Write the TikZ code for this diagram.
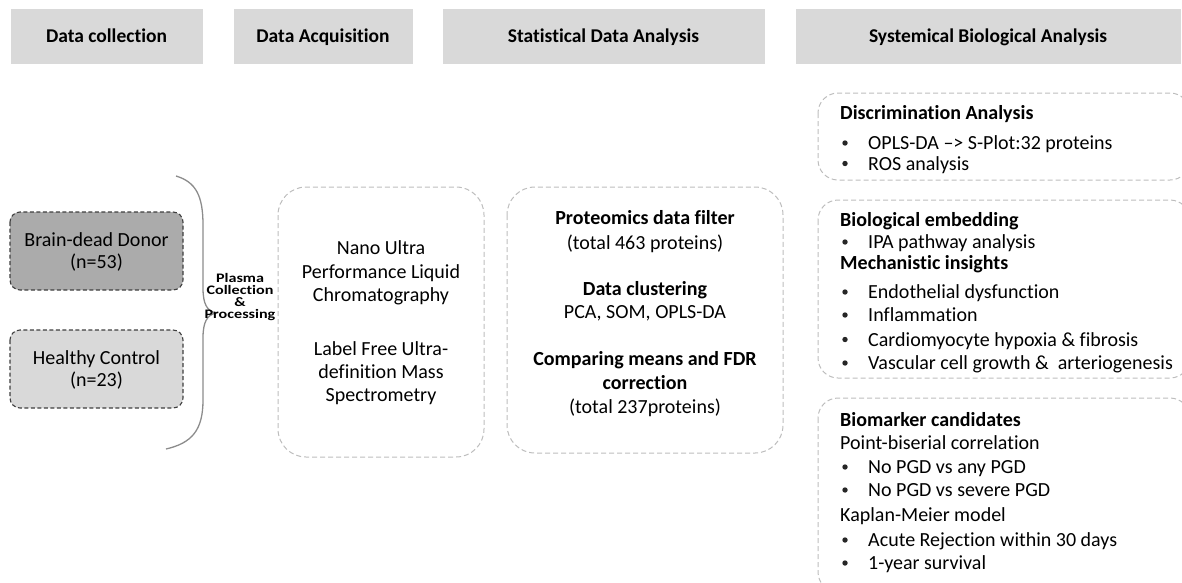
\documentclass[tikz,border=0pt]{standalone}
\usepackage{fontspec}
\setmainfont{Carlito}[Ligatures={NoCommon}]
\definecolor{hdrgrey}{HTML}{D9D9D9}
\definecolor{donorgrey}{HTML}{ABABAB}
\definecolor{ctrlgrey}{HTML}{D9D9D9}
\definecolor{dashgrey}{HTML}{BDBDBD}
\definecolor{edgegrey}{HTML}{3F3F3F}
\definecolor{bracegrey}{HTML}{8C8C8C}
\tikzset{
  hdr/.style={fill=hdrgrey, draw=white, line width=0.6pt, text height=16.6pt, text depth=4pt,
    font=\fontsize{19.5}{22}\selectfont\bfseries},
  cohort/.style={draw=edgegrey, dash pattern=on 4pt off 2.5pt, line width=1.1pt, rounded corners=10pt},
  panel/.style={draw=dashgrey, dash pattern=on 5pt off 3pt, line width=1pt, rounded corners=28pt},
  sidepanel/.style={draw=dashgrey, dash pattern=on 5pt off 3pt, line width=1pt, rounded corners=20pt},
  txt/.style={inner sep=0pt, anchor=base, font=\fontsize{20}{23}\selectfont},
  btxt/.style={inner sep=0pt, anchor=base, font=\fontsize{20}{23}\selectfont\bfseries},
  ltxt/.style={inner sep=0pt, anchor=base west, font=\fontsize{20}{23}\selectfont},
  lbtxt/.style={inner sep=0pt, anchor=base west, font=\fontsize{20}{23}\selectfont\bfseries},
  blt/.style={circle, fill=black!85, inner sep=0pt, minimum size=5.4pt, yshift=6.5pt},
  ptxt/.style={inner sep=0pt, anchor=base, font=\fontsize{13}{12}\selectfont\bfseries},
}
\newcommand{\wide}[1]{\scalebox{1.24}[1]{#1}}
\begin{document}
\begin{tikzpicture}[x=1pt,y=-1pt]
\useasboundingbox (0,0) rectangle (1182,582);
\clip (0,0) rectangle (1182,582);

% column headers
\node[hdr, minimum width=193pt, minimum height=56pt] (h1) at (106.5,36) {Data collection};
\node[hdr, minimum width=180pt, minimum height=56pt] (h2) at (323,36) {Data Acquisition};
\node[hdr, minimum width=323pt, minimum height=56pt] (h3) at (603.5,36) {Statistical Data Analysis};
\node[hdr, minimum width=386pt, minimum height=56pt] (h4) at (988,36) {Systemical Biological Analysis};

% cohorts
\draw[cohort, fill=donorgrey] (10,212) rectangle (183,290);
\node[txt] (donor) at (96.5,246.5) {Brain-dead Donor};
\node[txt] (donorn) at (96.5,268.5) {(n=53)};
\draw[cohort, fill=ctrlgrey] (10,330) rectangle (183,408);
\node[txt] (control) at (96.5,364.5) {Healthy Control};
\node[txt] (controln) at (96.5,386.5) {(n=23)};

% curly brace gathering both cohorts
\draw[bracegrey, line width=1.3pt]
  (176,176) .. controls (196,182) and (203,196) .. (203,225)
  -- (203,288) .. controls (203,304) and (207,311) .. (216,313)
  .. controls (207,315) and (203,322) .. (203,338)
  -- (203,400) .. controls (203,430) and (192,443) .. (166,449);
\node[ptxt] (pl1) at (240,282.5) {\wide{Plasma}};
\node[ptxt] (pl2) at (240,294.5) {\wide{Collection}};
\node[ptxt] (pl3) at (240,306.5) {\wide{\&}};
\node[ptxt] (pl4) at (240,318.5) {\wide{Processing}};

% acquisition panel
\draw[panel] (278,187) rectangle (484,457);
\node[txt] (a1) at (381,254.5) {Nano Ultra};
\node[txt] (a2) at (381,278) {Performance Liquid};
\node[txt] (a3) at (381,301.5) {Chromatography};
\node[txt] (a4) at (381,355.5) {Label Free Ultra-};
\node[txt] (a5) at (381,378.5) {definition Mass};
\node[txt] (a6) at (381,401.5) {Spectrometry};

% statistics panel
\draw[panel] (507,187) rectangle (783,453);
\node[btxt] (filt) at (645,224.5) {Proteomics data filter};
\node[txt] (filtn) at (645,249) {(total 463 proteins)};
\node[btxt] (clus) at (645,295) {Data clustering};
\node[txt] (clusm) at (645,318) {PCA, SOM, OPLS-DA};
\node[btxt] (comp) at (645,365.5) {Comparing means and FDR};
\node[btxt] (comp2) at (645,389) {correction};
\node[txt] (compn) at (645,413.5) {(total 237proteins)};

% biological analysis panels
\draw[sidepanel] (818,93) rectangle (1190,180);
\node[lbtxt] (disc) at (840,119.5) {Discrimination Analysis};
\node[blt] (b1) at (845,149.5) {};
\node[ltxt] (d1) at (868,149.5) {OPLS-DA –> S-Plot:32 proteins};
\node[blt] (b2) at (845,170) {};
\node[ltxt] (d2) at (868,170) {ROS analysis};

\draw[sidepanel] (818,200) rectangle (1190,378);
\node[lbtxt] (bio) at (840,226.5) {Biological embedding};
\node[blt] (b3) at (845,248.5) {};
\node[ltxt] (e1) at (868,248.5) {IPA pathway analysis};
\node[lbtxt] (mech) at (840,269.5) {Mechanistic insights};
\node[blt] (b4) at (845,298.5) {};
\node[ltxt] (m1) at (868,298.5) {Endothelial dysfunction};
\node[blt] (b5) at (845,321.5) {};
\node[ltxt] (m2) at (868,321.5) {Inflammation};
\node[blt] (b6) at (845,346) {};
\node[ltxt] (m3) at (868,346) {Cardiomyocyte hypoxia \& fibrosis};
\node[blt] (b7) at (845,369.5) {};
\node[ltxt] (m4) at (868,369.5) {Vascular cell growth \&\ \ arteriogenesis};

\draw[sidepanel] (818,398) rectangle (1190,592);
\node[lbtxt] (bmk) at (840,426.5) {Biomarker candidates};
\node[ltxt] (pbc) at (840,449.5) {Point-biserial correlation};
\node[blt] (b8) at (845,473.5) {};
\node[ltxt] (p1) at (868,473.5) {No PGD vs any PGD};
\node[blt] (b9) at (845,496.5) {};
\node[ltxt] (p2) at (868,496.5) {No PGD vs severe PGD};
\node[ltxt] (km) at (840,521.5) {Kaplan-Meier model};
\node[blt] (b10) at (845,546.5) {};
\node[ltxt] (k1) at (868,546.5) {Acute Rejection within 30 days};
\node[blt] (b11) at (845,569.5) {};
\node[ltxt] (k2) at (868,569.5) {1-year survival};
\end{tikzpicture}
\end{document}
